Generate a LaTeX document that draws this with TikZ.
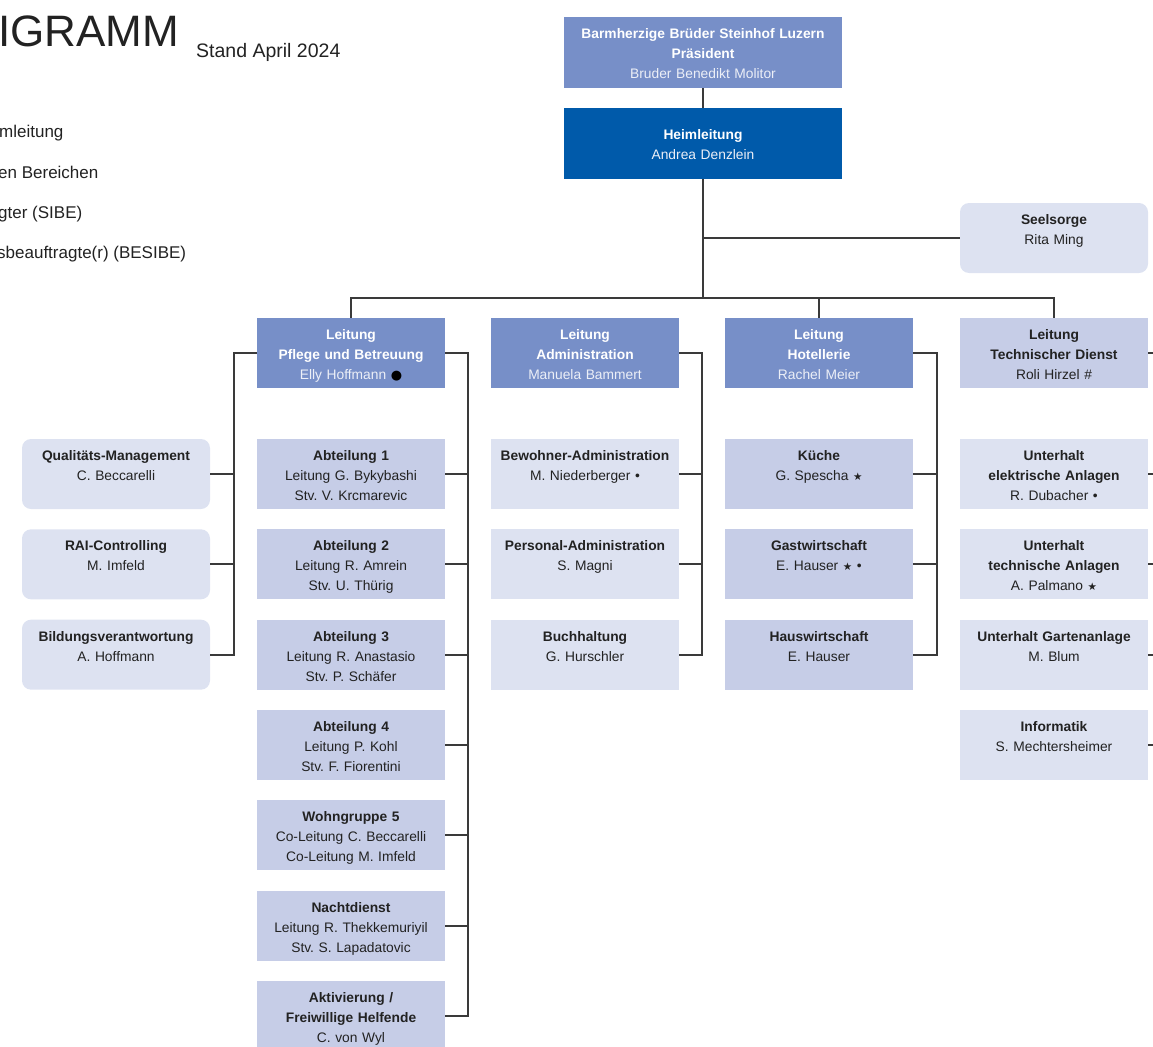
\documentclass[tikz,border=0pt]{standalone}
\usepackage{fontspec}
\setmainfont{Liberation Sans}
\newfontfamily\symfont{DejaVu Sans}
\usepackage{xcolor}
\usepackage{tikz}
\definecolor{leadblue}{RGB}{119,143,200}
\definecolor{headblue}{RGB}{0,90,170}
\definecolor{unitdark}{RGB}{198,205,231}
\definecolor{unitlight}{RGB}{221,226,241}
\definecolor{linegray}{RGB}{58,58,58}
\definecolor{ink}{RGB}{34,34,34}
\definecolor{paleink}{RGB}{236,239,247}
\frenchspacing
\newcommand{\RowTop}{474}
\newcommand{\RowGap}{90.33}
\newcommand{\BigDotSym}{{\color{black}\symfont\fontsize{13}{13}\selectfont ●}}
\newcommand{\StarSym}{{\symfont\fontsize{10.5}{10.5}\selectfont ★}}
\newcommand{\NameTxt}[1]{{\color{paleink}#1}}
\tikzset{
  orgbox/.style={rectangle, inner sep=0pt, text width=188pt, align=center,
    text height=21.5pt, text depth=48.5pt, font=\fontsize{13.8}{20}\selectfont},
  lead/.style={orgbox, fill=leadblue, text=white},   % Bereichsleitung
  unitA/.style={orgbox, fill=unitdark, text=ink},    % dunklere Felder
  unitB/.style={orgbox, fill=unitlight, text=ink},   % hellere Felder
  staff/.style={unitB, rounded corners=9pt},         % Stabsstellen
  link/.style={draw=linegray, line width=1.7pt},
  legendtext/.style={anchor=base west, inner sep=0pt, text=ink, font=\fontsize{17}{20}\selectfont}
}
\newcommand{\PlaceUnit}[5]{% #1=style, #2=name, #3=x, #4=row, #5=text
  \pgfmathsetmacro{\yrow}{\RowTop+\RowGap*(#4-1)}%
  \node[#1] (#2) at (#3,\yrow) {#5};%
}

\begin{document}
\begin{tikzpicture}[x=1pt, y=-1pt]
  \useasboundingbox (0,0) rectangle (1153,1046);
  \clip (0,0) rectangle (1153,1046);

  % Titel + Legende (links abgeschnitten)
  \node[anchor=base west, inner sep=0pt, text=ink, font=\fontsize{44}{44}\selectfont] (title) at (-2,47) {IGRAMM};
  \node[anchor=base west, inner sep=0pt, text=ink, font=\fontsize{19.5}{20}\selectfont] (stand) at (196,58) {Stand April 2024};
  \node[legendtext] (leg1) at (-1,138) {mleitung};
  \node[legendtext] (leg2) at (-2,178) {en Bereichen};
  \node[legendtext] (leg3) at (-2,218) {gter (SIBE)};
  \node[legendtext] (leg4) at (-3,258) {sbeauftragte(r) (BESIBE)};

  % Spitze
  \node[lead, text width=278pt, text depth=49.5pt] (praes) at (703,52.5)
    {\textbf{Barmherzige Brüder Steinhof Luzern}\\\textbf{Präsident}\\\NameTxt{Bruder Benedikt Molitor}};
  \node[lead, fill=headblue, text width=278pt, text height=31.3pt, text depth=38.7pt] (heim) at (703,143.5)
    {\textbf{Heimleitung}\\\NameTxt{Andrea Denzlein}};
  \node[staff] (seel) at (1054,238) {\textbf{Seelsorge}\\Rita Ming};

  % Bereichsleitungen
  \node[lead] (pfl) at (351,353) {\textbf{Leitung}\\\textbf{Pflege und Betreuung}\\\NameTxt{Elly Hoffmann} \BigDotSym};
  \node[lead] (adm) at (585,353) {\textbf{Leitung}\\\textbf{Administration}\\\NameTxt{Manuela Bammert}};
  \node[lead] (hot) at (819,353) {\textbf{Leitung}\\\textbf{Hotellerie}\\\NameTxt{Rachel Meier}};
  \node[unitA] (tech) at (1054,353) {\textbf{Leitung}\\\textbf{Technischer Dienst}\\Roli Hirzel \#};

  % Stabsstellen links
  \PlaceUnit{staff}{qm}{116}{1}{\textbf{Qualitäts-Management}\\C. Beccarelli}
  \PlaceUnit{staff}{rai}{116}{2}{\textbf{RAI-Controlling}\\M. Imfeld}
  \PlaceUnit{staff}{bild}{116}{3}{\textbf{Bildungsverantwortung}\\A. Hoffmann}

  % Pflege und Betreuung
  \PlaceUnit{unitA}{pfl1}{351}{1}{\textbf{Abteilung 1}\\Leitung G. Bykybashi\\Stv. V. Krcmarevic}
  \PlaceUnit{unitA}{pfl2}{351}{2}{\textbf{Abteilung 2}\\Leitung R. Amrein\\Stv. U. Thürig}
  \PlaceUnit{unitA}{pfl3}{351}{3}{\textbf{Abteilung 3}\\Leitung R. Anastasio\\Stv. P. Schäfer}
  \PlaceUnit{unitA}{pfl4}{351}{4}{\textbf{Abteilung 4}\\Leitung P. Kohl\\Stv. F. Fiorentini}
  \PlaceUnit{unitA}{pfl5}{351}{5}{\textbf{Wohngruppe 5}\\Co-Leitung C. Beccarelli\\Co-Leitung M. Imfeld}
  \PlaceUnit{unitA}{pfl6}{351}{6}{\textbf{Nachtdienst}\\Leitung R. Thekkemuriyil\\Stv. S. Lapadatovic}
  \PlaceUnit{unitA}{pfl7}{351}{7}{\textbf{Aktivierung /}\\\textbf{Freiwillige Helfende}\\C. von Wyl}

  % Administration
  \PlaceUnit{unitB}{adm1}{585}{1}{\textbf{Bewohner-Administration}\\M. Niederberger •}
  \PlaceUnit{unitB}{adm2}{585}{2}{\textbf{Personal-Administration}\\S. Magni}
  \PlaceUnit{unitB}{adm3}{585}{3}{\textbf{Buchhaltung}\\G. Hurschler}

  % Hotellerie
  \PlaceUnit{unitA}{hot1}{819}{1}{\textbf{Küche}\\G. Spescha \StarSym}
  \PlaceUnit{unitA}{hot2}{819}{2}{\textbf{Gastwirtschaft}\\E. Hauser \StarSym{} •}
  \PlaceUnit{unitA}{hot3}{819}{3}{\textbf{Hauswirtschaft}\\E. Hauser}

  % Technischer Dienst
  \PlaceUnit{unitB}{tech1}{1054}{1}{\textbf{Unterhalt}\\\textbf{elektrische Anlagen}\\R. Dubacher •}
  \PlaceUnit{unitB}{tech2}{1054}{2}{\textbf{Unterhalt}\\\textbf{technische Anlagen}\\A. Palmano \StarSym}
  \PlaceUnit{unitB}{tech3}{1054}{3}{\textbf{Unterhalt Gartenanlage}\\M. Blum}
  \PlaceUnit{unitB}{tech4}{1054}{4}{\textbf{Informatik}\\S. Mechtersheimer}

  % Linien oben
  \draw[link] (praes) -- (heim);
  \draw[link] (heim.south) -- ++(0,119);
  \draw[link] (seel.west) -- (seel.west -| heim.south);
  \draw[link] (pfl.north) -- ++(0,-20) -| (tech.north);
  \draw[link] (hot.north) -- ++(0,-20);

  % Klammern an den Spalten
  \draw[link] (pfl.east) -- ++(23,0) coordinate (pflbus) |- (pfl7.east);
  \foreach \n in {1,...,6} \draw[link] (pfl\n.east) -- (pfl\n.east -| pflbus);
  \draw[link] (adm.east) -- ++(23,0) coordinate (admbus) |- (adm3.east);
  \foreach \n in {1,2} \draw[link] (adm\n.east) -- (adm\n.east -| admbus);
  \draw[link] (hot.east) -- ++(24,0) coordinate (hotbus) |- (hot3.east);
  \foreach \n in {1,2} \draw[link] (hot\n.east) -- (hot\n.east -| hotbus);
  \draw[link] (tech.east) -- ++(23,0) coordinate (techbus) |- (tech4.east);
  \foreach \n in {1,2,3} \draw[link] (tech\n.east) -- (tech\n.east -| techbus);
  \draw[link] (pfl.west) -- ++(-23,0) coordinate (staffbus) |- (bild.east);
  \foreach \n in {qm,rai} \draw[link] (\n.east) -- (\n.east -| staffbus);
\end{tikzpicture}
\end{document}
